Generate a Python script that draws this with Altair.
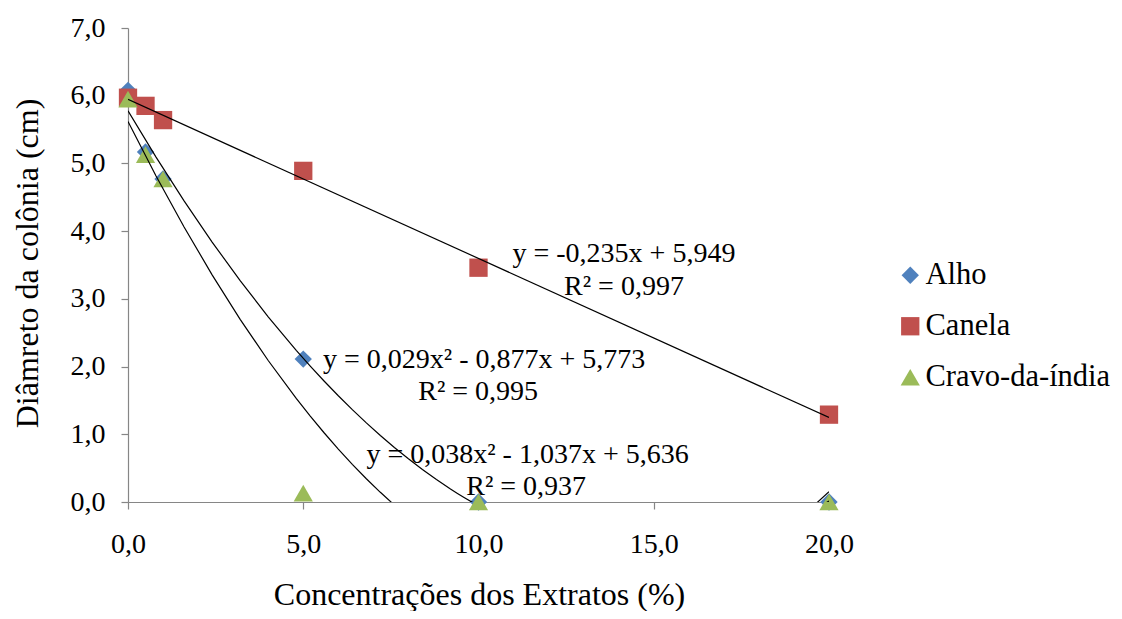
import altair as alt
import pandas as pd

# ---- data ----
concentracoes = [0, 0.5, 1, 5, 10, 20]
alho = [6.08, 5.17, 4.77, 2.11, 0.0, 0.0]
canela = [5.97, 5.85, 5.64, 4.89, 3.46, 1.29]
cravo = [5.95, 5.13, 4.77, 0.13, 0.0, 0.0]

series_names = ["Alho", "Canela", "Cravo-da-índia"]
series_colors = ["#4F81BD", "#C0504D", "#9BBB59"]
series_shapes = ["diamond", "square", "triangle-up"]
series_sizes = [300, 370, 400]

eq_text = [
    "y = -0,235x + 5,949", "R² = 0,997",
    "y = 0,029x² - 0,877x + 5,773", "R² = 0,995",
    "y = 0,038x² - 1,037x + 5,636", "R² = 0,937",
]
eq_x = [14.15, 14.15, 10.16, 9.99, 11.40, 11.36]
eq_y = [3.545, 3.057, 1.979, 1.506, 0.576, 0.103]

rows = []
for name, vals in zip(series_names, [alho, canela, cravo]):
    for c, v in zip(concentracoes, vals):
        rows.append({"Extrato": name, "conc": c, "diam": v})
df = pd.DataFrame(rows)
eq_df = pd.DataFrame({"texto": eq_text, "x": eq_x, "y": eq_y})

FONT = "Liberation Serif, Times New Roman, DejaVu Serif, serif"
lab = "replace(format(datum.value, '.1f'), '.', ',')"

xscale = alt.Scale(domain=[0, 20], nice=False, zero=False)
yscale = alt.Scale(domain=[0, 7], nice=False)

x_enc = alt.X("conc:Q", scale=xscale,
              axis=alt.Axis(values=[0, 5, 10, 15, 20], labelExpr=lab,
                            labelFlush=False,
                            title="Concentrações dos Extratos (%)",
                            titleX=351, titleY=102, titleBaseline="alphabetic",
                            labelPadding=21))
y_enc = alt.Y("diam:Q", scale=yscale,
              axis=alt.Axis(values=[0, 1, 2, 3, 4, 5, 6, 7], labelExpr=lab,
                            labelFlush=False,
                            title="Diâmreto da colônia (cm)",
                            titleX=-101, titleY=235, titleAngle=-90,
                            titleBaseline="middle", titleAlign="center",
                            labelPadding=16))

points = alt.Chart(df).mark_point(filled=True, opacity=1).encode(
    x=x_enc,
    y=y_enc,
    color=alt.Color("Extrato:N",
                    scale=alt.Scale(domain=series_names, range=series_colors),
                    legend=alt.Legend(title=None, orient="none",
                                      legendX=767, legendY=232,
                                      labelFont=FONT, labelFontSize=30.5,
                                      labelColor="black", symbolSize=340,
                                      symbolStrokeWidth=0, labelOffset=0,
                                      labelLimit=0,
                                      rowPadding=20, padding=0)),
    shape=alt.Shape("Extrato:N",
                    scale=alt.Scale(domain=series_names, range=series_shapes)),
    size=alt.Size("Extrato:N",
                  scale=alt.Scale(domain=series_names, range=series_sizes),
                  legend=None),
    order=alt.Order("ordem:Q"),
).transform_calculate(
    ordem="indexof(['Alho','Canela','Cravo-da-índia'], datum.Extrato)"
)

lin = alt.Chart(df).transform_filter(
    alt.datum.Extrato == "Canela"
).transform_regression(
    "conc", "diam", method="linear"
).mark_line(color="black", strokeWidth=1.2, clip=True).encode(
    x=alt.X("conc:Q", scale=xscale), y=alt.Y("diam:Q", scale=yscale)
)

poly = alt.Chart(df).transform_filter(
    alt.datum.Extrato != "Canela"
).transform_regression(
    "conc", "diam", method="poly", order=2, groupby=["Extrato"]
).mark_line(color="black", strokeWidth=1.2, clip=True).encode(
    x=alt.X("conc:Q", scale=xscale), y=alt.Y("diam:Q", scale=yscale),
    detail="Extrato:N"
)

eqs = alt.Chart(eq_df).mark_text(
    font=FONT, fontSize=28, align="center", baseline="alphabetic", color="black"
).encode(
    x=alt.X("x:Q", scale=xscale), y=alt.Y("y:Q", scale=yscale), text="texto:N"
)

chart = alt.layer(points, lin, poly, eqs).properties(
    width=701, height=474,
    autosize=alt.AutoSizeParams(type="none"),
    padding={"left": 120, "top": 20, "right": 285, "bottom": 109},
).configure_view(stroke=None).configure_axis(
    grid=False, domainColor="#868686", tickColor="#868686", domainWidth=1.2,
    tickWidth=1.2, tickSize=7, labelFont=FONT, labelFontSize=28,
    labelColor="black", titleFont=FONT, titleFontSize=32, titleColor="black",
    titleFontWeight="normal",
).configure_text(font=FONT).configure_legend(labelFont=FONT)

chart.save("out.html", embed_options={"renderer": "svg", "actions": False})
